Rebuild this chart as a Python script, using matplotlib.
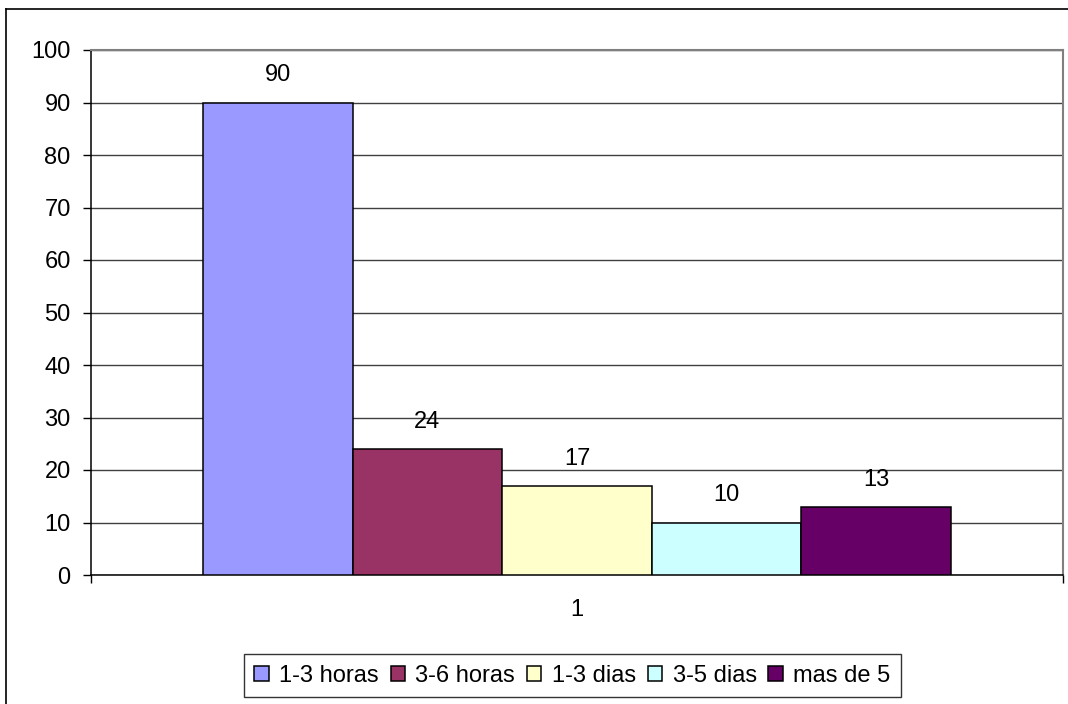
import matplotlib
matplotlib.use("Agg")
import matplotlib.pyplot as plt
from matplotlib.patches import Patch
from matplotlib.lines import Line2D

categories = ["1-3 horas", "3-6 horas", "1-3 dias", "3-5 dias", "mas de 5"]
values = [90, 24, 17, 10, 13]
colors = ["#9999FF", "#993366", "#FFFFCC", "#CCFFFF", "#660066"]
x_label = "1"
y_ticks = [0, 10, 20, 30, 40, 50, 60, 70, 80, 90, 100]

plt.rcParams['font.family'] = ['Liberation Sans', 'DejaVu Sans']
FS = 17

W, H = 1068, 704
fig = plt.figure(figsize=(W / 100, H / 100), dpi=100)
ax = fig.add_axes([91 / W, 1 - 575 / H, (1063 - 91) / W, (575 - 50) / H])

n = len(values)
bw = 149.6 / 972
start = -n * bw / 2
for i, (v, c, lab) in enumerate(zip(values, colors, categories)):
    xc = start + bw * (i + 0.5)
    ax.bar(xc, v, width=bw, color=c, edgecolor="black", linewidth=1.1, label=lab, zorder=3)
    ax.annotate(str(v), (xc, v), xytext=(0, 19.5), textcoords="offset points",
                ha="center", va="center", fontsize=FS, color="black", zorder=4)

ax.set_xlim(-0.5, 0.5)
ax.set_ylim(0, 100)
ax.set_yticks(y_ticks)
ax.yaxis.grid(True, color="#404040", linewidth=1.0, zorder=0)
ax.set_axisbelow(True)
ax.tick_params(axis="y", direction="out", length=6, width=1, color="black", labelsize=FS, pad=8.6)
ax.set_xticks([0])
ax.set_xticklabels([x_label])
ax.set_xticks([-0.5, 0.5], minor=True)
ax.tick_params(axis="x", which="major", length=0, labelsize=FS, pad=17.5)
ax.tick_params(axis="x", which="minor", direction="out", length=6, width=1, color="black")

for s in ["left", "bottom"]:
    ax.spines[s].set_color("black")
    ax.spines[s].set_linewidth(1.1)
for s in ["top", "right"]:
    ax.spines[s].set_color("#808080")
    ax.spines[s].set_linewidth(1.5)

handles = [Patch(facecolor=c, edgecolor="black", linewidth=1.1) for c in colors]
leg = fig.legend(handles, categories, ncol=5, loc="center",
                 bbox_to_anchor=(572.5 / W, 1 - 675.5 / H),
                 fontsize=FS, frameon=True, fancybox=False, shadow=False,
                 handlelength=0.6, handleheight=0.6, handletextpad=0.45,
                 columnspacing=0.5, borderpad=0.45, borderaxespad=0)
leg.get_frame().set_edgecolor("black")
leg.get_frame().set_linewidth(1.0)

# outer chart border
fig.add_artist(Line2D([6 / W, 6 / W], [1 - 9 / H, 0], transform=fig.transFigure, color="black", linewidth=1.2))
fig.add_artist(Line2D([6 / W, 1], [1 - 9 / H, 1 - 9 / H], transform=fig.transFigure, color="black", linewidth=1.2))

fig.savefig("out.png", dpi=100)
